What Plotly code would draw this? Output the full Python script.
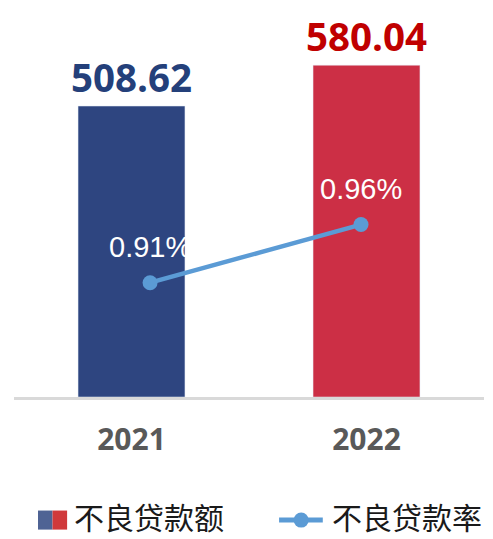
import plotly.graph_objects as go

years = ["2021", "2022"]
npl_amount = [508.62, 580.04]
npl_rate = [0.91, 0.96]
amount_labels = ["508.62", "580.04"]
rate_labels = ["0.91%", "0.96%"]
bar_colors = ["#2E4580", "#CC2F45"]
label_colors = ["#24407A", "#C00000"]
legend_names = ["不良贷款额", "不良贷款率"]

fig = go.Figure()
fig.add_trace(go.Bar(
    x=years, y=npl_amount, marker_color=bar_colors, width=0.455,
    text=amount_labels, textposition="outside", cliponaxis=False, constraintext="none",
    textfont=dict(family="Open Sans", size=38.5, color=label_colors, weight="bold"),
    showlegend=False, hoverinfo="skip",
))
fig.add_trace(go.Scatter(
    x=years, y=npl_rate, xaxis="x2", yaxis="y2", mode="lines+markers",
    line=dict(color="#5B9BD5", width=4.5), marker=dict(size=15, color="#5B9BD5"),
    showlegend=False, cliponaxis=False,
))
for i, (v, t) in enumerate(zip(npl_rate, rate_labels)):
    fig.add_annotation(x=i, y=v, xref="x2", yref="y2", text=t, showarrow=False,
                       yshift=36, font=dict(family="Liberation Sans", size=29, color="white"))

# manual legend
fig.add_shape(type="rect", xref="paper", yref="paper", x0=0.051, x1=0.082, y0=-0.334, y1=-0.286,
              fillcolor="#4F6394", line_width=0)
fig.add_shape(type="rect", xref="paper", yref="paper", x0=0.082, x1=0.113, y0=-0.334, y1=-0.286,
              fillcolor="#D0393B", line_width=0)
fig.add_shape(type="line", xref="paper", yref="paper", x0=0.564, x1=0.657, y0=-0.310, y1=-0.310,
              line=dict(color="#5B9BD5", width=5))
fig.add_shape(type="circle", xref="paper", yref="paper", x0=0.595, x1=0.627, y0=-0.329, y1=-0.291,
              fillcolor="#5B9BD5", line_width=0)
fig.add_annotation(xref="paper", yref="paper", x=0.124, y=-0.300, text=legend_names[0],
                   showarrow=False, xanchor="left", yanchor="middle",
                   font=dict(family="Noto Sans CJK SC", size=30, color="#1A1A1A"))
fig.add_annotation(xref="paper", yref="paper", x=0.673, y=-0.300, text=legend_names[1],
                   showarrow=False, xanchor="left", yanchor="middle",
                   font=dict(family="Noto Sans CJK SC", size=30, color="#1A1A1A"))

fig.update_layout(
    width=493, height=539,
    margin=dict(l=14, r=9, t=0, b=142),
    plot_bgcolor="white", paper_bgcolor="white",
    xaxis=dict(type="category", range=[-0.5, 1.5], showline=True, linecolor="#D9D9D9", linewidth=3,
               ticks="", showgrid=False, ticklabelstandoff=14,
               tickfont=dict(family="Open Sans", size=30, color="#595959", weight="bold")),
    xaxis2=dict(type="category", overlaying="x", range=[-0.645, 1.583], visible=False),
    yaxis=dict(range=[0, 694], visible=False, showgrid=False),
    yaxis2=dict(range=[0.8117, 1.1531], overlaying="y", visible=False, showgrid=False),
)
fig.write_html("out.html", config={"displayModeBar": False},
               post_script="document.body.style.margin='0';document.body.style.overflow='hidden';")
